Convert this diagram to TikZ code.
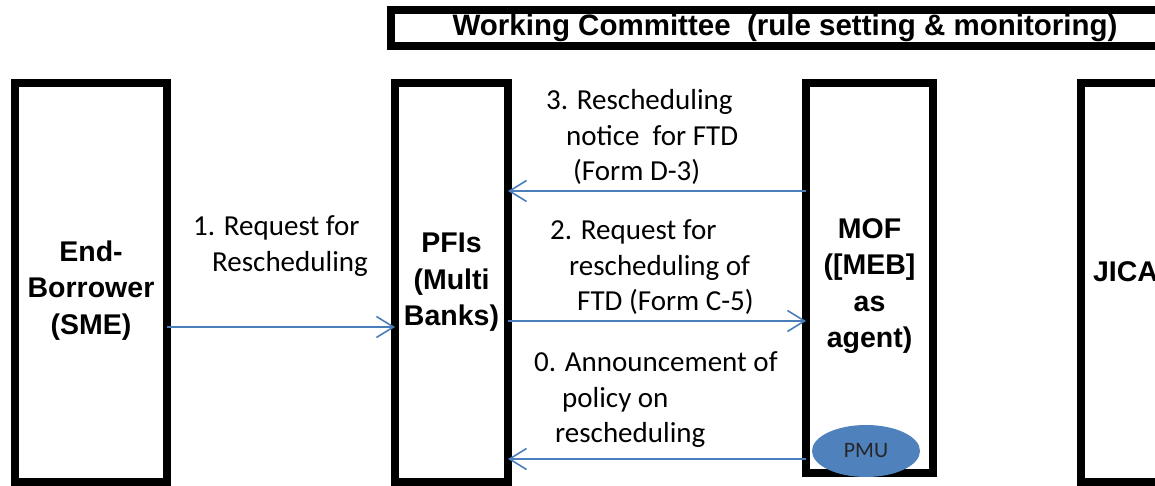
\documentclass[tikz,border=0pt]{standalone}
\usepackage{fontspec}
\newfontfamily\boxfont{Liberation Sans}
\newfontfamily\flowfont{Carlito}
\usetikzlibrary{arrows.meta,shapes.geometric}
\definecolor{flowBlue}{RGB}{74,126,187}
\definecolor{pmuBlue}{RGB}{79,129,189}

\begin{document}
\begin{tikzpicture}
[x=1pt,y=1pt,
 boxDecorate/.style={shape=rectangle,draw,line width=8pt,outer sep=0pt,inner sep=0pt,
   align=center,font=\boxfont\bfseries\fontsize{28.5}{36.5}\selectfont},%
 arrowDecorate/.style={-{Straight Barb[length=17pt,width=21pt]},draw=flowBlue,line width=1.6pt},%
 flowText/.style={anchor=base west,inner sep=0pt,align=left,
   font=\flowfont\fontsize{29}{35.5}\selectfont}]
\useasboundingbox (0,0) rectangle (1155,486);
\clip (0,0) rectangle (1155,486);
%% boxes
\node (wc) at (785,458) [boxDecorate,minimum width=788pt,minimum height=36pt,
  font=\boxfont\bfseries\fontsize{29.5}{35}\selectfont] {Working Committee\ \ (rule setting \& monitoring)};
\foreach \nodename/\x/\y/\w/\h/\nodetext in {
  sme/91/203.5/152/399/{\rule{0pt}{36pt}End-\\Borrower\\(SME)},
  pfi/451.5/203.5/113/399/{PFIs\\(Multi\\Banks)},
  mof/869.5/208/127/390/{\rule{0pt}{36pt}MOF\\([MEB]\\as\\agent)},
  jica/1125.5/203.5/89/399/{\raisebox{22pt}{JICA}}}
{
  \node (\nodename) at (\x,\y) [boxDecorate,minimum width=\w pt,minimum height=\h pt] {\nodetext};
}
\node (pmu) at (866,35) [shape=ellipse,fill=pmuBlue,minimum width=108pt,minimum height=52pt,
  inner sep=0pt,text=black!85,font=\flowfont\fontsize{22}{24}\selectfont] {PMU};
%% arrows
\foreach \startnode/\endnode/\y in {
  sme.east/pfi.west/159, pfi.east/mof.west/165, mof.west/pfi.east/295, mof.west/pfi.east/27}
{
  \draw[arrowDecorate] (\startnode |- 0,\y) -- (\endnode |- 0,\y);
}
%% labels on the arrows (anchored at the last line)
\node (req1) at (193,214) [flowText,font=\flowfont\fontsize{29}{36}\selectfont]
  {1. Request for\\\hspace*{19pt}Rescheduling};
\node (notice3) at (546,305) [flowText]
  {3. Rescheduling\\\hspace*{20pt}notice\ \ for FTD\\\hspace*{27pt}(Form D-3)};
\node (req2) at (550,175) [flowText]
  {2. Request for\\\hspace*{19pt}rescheduling of\\\hspace*{27pt}FTD (Form C-5)};
\node (announce0) at (534,43) [flowText]
  {0. Announcement of\\\hspace*{28pt}policy on\\\hspace*{21pt}rescheduling};
\end{tikzpicture}
\end{document}
